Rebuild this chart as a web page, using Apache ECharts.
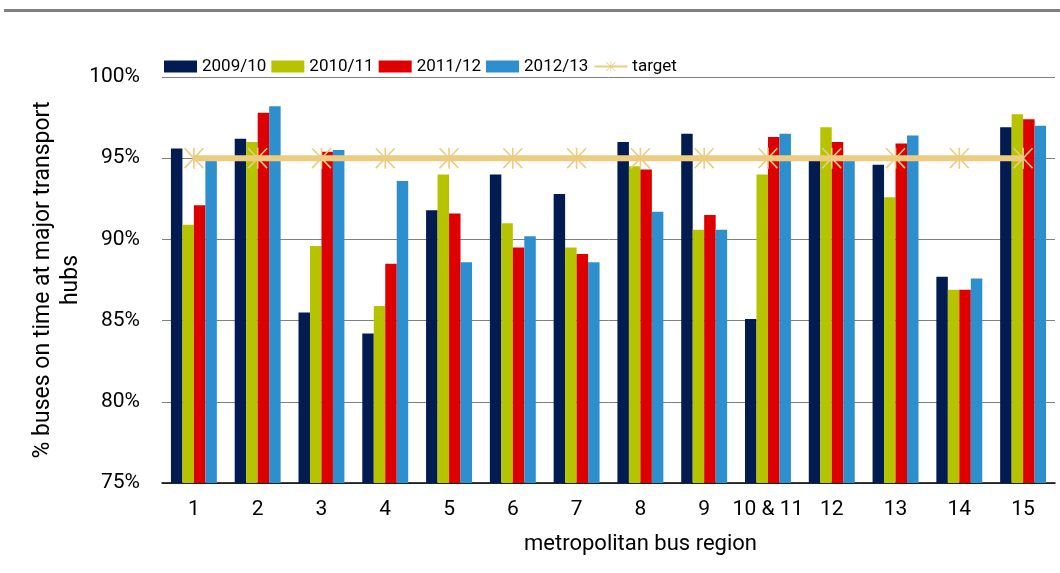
<!DOCTYPE html>
<html>
<head>
<meta charset="utf-8">
<script src="https://cdn.jsdelivr.net/npm/echarts@6/dist/echarts.min.js"></script>
<style>
  html, body { margin: 0; padding: 0; background: #fff; }
  #chart { width: 1060px; height: 573px; }
</style>
</head>
<body>
<div id="chart"></div>
<script>
// Bus punctuality at major transport hubs, by metropolitan bus region
const regions = ['1', '2', '3', '4', '5', '6', '7', '8', '9', '10 & 11', '12', '13', '14', '15'];
const y2009 = [95.6, 96.2, 85.5, 84.2, 91.8, 94.0, 92.8, 96.0, 96.5, 85.1, 95.0, 94.6, 87.7, 96.9];
const y2010 = [90.9, 96.0, 89.6, 85.9, 94.0, 91.0, 89.5, 94.5, 90.6, 94.0, 96.9, 92.6, 86.9, 97.7];
const y2011 = [92.1, 97.8, 95.4, 88.5, 91.6, 89.5, 89.1, 94.3, 91.5, 96.3, 96.0, 95.9, 86.9, 97.4];
const y2012 = [95.0, 98.2, 95.5, 93.6, 88.6, 90.2, 88.6, 91.7, 90.6, 96.5, 95.0, 96.4, 87.6, 97.0];
const target = [95, 95, 95, 95, 95, 95, 95, 95, 95, 95, 95, 95, 95, 95];
const seriesNames = ['2009/10', '2010/11', '2011/12', '2012/13', 'target'];

const FONT = '"Roboto", "Liberation Sans", sans-serif';
const colors = ['#021C52', '#B6C400', '#DE0000', '#2E8FCE'];
const targetColor = '#EDCB80';

// asterisk marker: a vertical bar crossed by two corner-to-corner diagonals
const asterisk = 'path://' +
  'M-0.8,-10.55L0.8,-10.55L0.8,10.55L-0.8,10.55Z' +
  'M-8.92,-10.55L10.08,9.45L8.92,10.55L-10.08,-9.45Z' +
  'M10.08,-9.45L-8.92,10.55L-10.08,9.45L8.92,-10.55Z';

const chart = echarts.init(document.getElementById('chart'), null, { renderer: 'canvas' });

const barSeries = [y2009, y2010, y2011, y2012].map((d, i) => ({
  name: seriesNames[i],
  type: 'bar',
  data: d,
  barGap: '0%',
  barCategoryGap: '28%',
  itemStyle: { color: colors[i] },
  z: 2
}));

chart.setOption({
  animation: false,
  textStyle: { fontFamily: FONT },
  graphic: [{
    type: 'rect',
    shape: { x: 4, y: 9, width: 1056, height: 3 },
    style: { fill: '#808080' }
  }],
  legend: {
    top: 53,
    left: 159,
    itemGap: 5,
    itemWidth: 33,
    itemHeight: 12,
    textStyle: { fontSize: 17, color: '#000', fontFamily: FONT },
    data: [
      { name: '2009/10', icon: 'rect' },
      { name: '2010/11', icon: 'rect' },
      { name: '2011/12', icon: 'rect' },
      { name: '2012/13', icon: 'rect' },
      { name: 'target' }
    ]
  },
  grid: { left: 162, right: 5, top: 77, bottom: 90 },
  xAxis: {
    type: 'category',
    data: regions,
    axisTick: { show: false },
    axisLine: { lineStyle: { color: '#000', width: 1.5 } },
    axisLabel: { interval: 0, fontSize: 21, color: '#000', margin: 16, fontFamily: FONT },
    name: 'metropolitan bus region',
    nameLocation: 'middle',
    nameGap: 50,
    nameMoveOverlap: false,
    nameTextStyle: { fontSize: 22, color: '#000', fontFamily: FONT, padding: [0, 0, 0, 64] }
  },
  yAxis: {
    type: 'value',
    min: 75,
    max: 100,
    interval: 5,
    axisLine: { show: false },
    axisTick: { show: false },
    splitLine: { lineStyle: { color: '#808080', width: 1 } },
    axisLabel: { fontSize: 21, color: '#000', margin: 22, fontFamily: FONT, formatter: v => v + '%' },
    name: '% buses on time at major transport\nhubs',
    nameLocation: 'middle',
    nameGap: 77,
    nameMoveOverlap: false,
    nameTextStyle: { fontSize: 23, color: '#000', fontFamily: FONT, lineHeight: 28, align: 'center' }
  },
  series: [
    ...barSeries,
    {
      name: 'target',
      type: 'line',
      data: target,
      z: 5,
      lineStyle: { color: targetColor, width: 6 },
      itemStyle: { color: targetColor },
      symbol: asterisk,
      symbolSize: [20, 21],
      showAllSymbol: true
    }
  ]
});
</script>
</body>
</html>
